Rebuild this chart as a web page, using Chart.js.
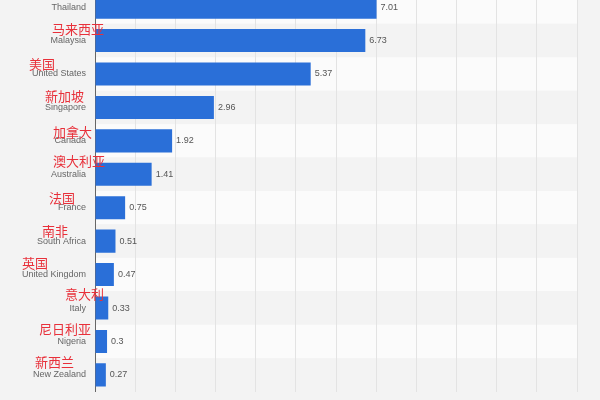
<!DOCTYPE html>
<html>
<head>
<meta charset="utf-8">
<script src="https://cdn.jsdelivr.net/npm/chart.js@4.4.1/dist/chart.umd.min.js"></script>
<style>
  html, body { margin: 0; padding: 0; background: #f3f3f3; overflow: hidden; }
  #wrap { position: absolute; left: 0; top: -24px; width: 600px; height: 430px; }
</style>
</head>
<body>
<div id="wrap"><canvas id="chart"></canvas></div>
<script>
// data
const countries = ["Thailand", "Malaysia", "United States", "Singapore", "Canada", "Australia",
  "France", "South Africa", "United Kingdom", "Italy", "Nigeria", "New Zealand"];
const countries_cn = ["泰国", "马来西亚", "美国", "新加坡", "加拿大", "澳大利亚",
  "法国", "南非", "英国", "意大利", "尼日利亚", "新西兰"];
const values = [7.01, 6.73, 5.37, 2.96, 1.92, 1.41, 0.75, 0.51, 0.47, 0.33, 0.3, 0.27];

// where the red chinese names sit (left edge x, y shift from row centre)
const cn_x = [null, 52, 29, 45, 53, 53, 49, 42, 22, 65, 39, 35];
const cn_dy = [-11, -11, -10, -11, -9, -13, -10, -10, -12, -14, -12, -13];

const ctx = document.getElementById("chart").getContext("2d");

// striped rows behind the bars
const stripes = {
  id: "stripes",
  beforeDraw(chart) {
    const c = chart.ctx, area = chart.chartArea, y = chart.scales.y;
    const h = (area.bottom - area.top) / countries.length;
    c.save();
    countries.forEach((name, i) => {
      const mid = y.getPixelForValue(i);
      c.fillStyle = i % 2 == 0 ? "#fbfbfb" : "#f3f3f3";
      c.fillRect(area.left, mid - h / 2, area.right - area.left, h);
    });
    c.restore();
  }
};

// value next to each bar + chinese names
const labels = {
  id: "labels",
  afterDatasetsDraw(chart) {
    const c = chart.ctx;
    const meta = chart.getDatasetMeta(0);
    c.save();
    c.font = "9px 'Liberation Sans', Arial, sans-serif";
    c.fillStyle = "#555";
    c.textAlign = "left";
    c.textBaseline = "middle";
    meta.data.forEach((bar, i) => {
      c.fillText(String(values[i]), bar.x + 4, bar.y);
    });
    c.font = "13px 'Noto Sans CJK SC', sans-serif";
    c.fillStyle = "#e8303a";
    meta.data.forEach((bar, i) => {
      if (cn_x[i] === null) return;
      c.fillText(countries_cn[i], cn_x[i], bar.y + cn_dy[i]);
    });
    c.restore();
  }
};

new Chart(ctx, {
  type: "bar",
  data: {
    labels: countries,
    datasets: [{
      data: values,
      backgroundColor: "#2a6fd8",
      borderWidth: 0,
      categoryPercentage: 1,
      barPercentage: 0.69
    }]
  },
  options: {
    indexAxis: "y",
    responsive: true,
    maintainAspectRatio: false,
    animation: false,
    layout: { padding: { left: 0, right: 23, top: 0, bottom: 0 } },
    plugins: { legend: { display: false }, tooltip: { enabled: false } },
    scales: {
      x: {
        min: 0,
        max: 12,
        ticks: { display: false, stepSize: 1 },
        grid: { color: "#e3e3e3", drawTicks: false },
        border: { display: false },
        afterFit: (s) => { s.height = 0; }
      },
      y: {
        ticks: {
          color: "#666",
          padding: 9,
          font: { family: "'Liberation Sans', Arial, sans-serif", size: 9 }
        },
        grid: { display: false, drawTicks: false },
        border: { display: true, color: "#666", width: 1 },
        afterFit: (s) => { s.width = 95; }
      }
    }
  },
  plugins: [stripes, labels]
});
</script>
</body>
</html>
